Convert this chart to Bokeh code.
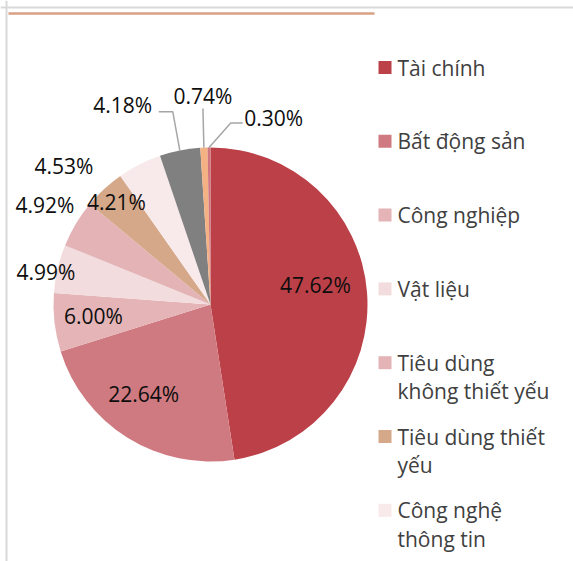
import numpy as np
from bokeh.plotting import figure
from bokeh.models import ColumnDataSource, Span
from bokeh.core.properties import value
from bokeh.embed import file_html
from bokeh.resources import INLINE

# ---- data ----
sectors = ["Tài chính", "Bất động sản", "Công nghiệp", "Vật liệu",
           "Tiêu dùng không thiết yếu", "Tiêu dùng thiết yếu",
           "Công nghệ thông tin", "Năng lượng", "Y tế", "Tiện ích"]
weights = [47.62, 22.64, 6.00, 4.99, 4.92, 4.21, 4.53, 4.18, 0.74, 0.30]
colors = ["#BC4048", "#CF7A80", "#E4B4B7", "#F2DCDD", "#E3B3B6",
          "#D5A88A", "#F8E9EA", "#808080", "#F4B183", "#D0767E"]
# legend entries visible in the reference (wrapped as shown)
legend_labels = ["Tài chính", "Bất động sản", "Công nghiệp", "Vật liệu",
                 "Tiêu dùng\nkhông thiết yếu", "Tiêu dùng thiết\nyếu",
                 "Công nghệ\nthông tin"]

# ---- layout / style ----
R = 157
label_r = [0.67, 0.71, 0.75, 1.07, 1.23, 0.885, 1.29, 1.20, 1.30, 1.20]
label_nudge = [(0, 11), (-8, 5), (0, 2), (-1, -6), (0, 0), (0, 0),
               (-55, -42), (-51, 15), (1, 5), (65, -2)]
FONT = "Open Sans"
FS = "21px"

w = np.array(weights)
total = w.sum()
cum = np.concatenate([[0], np.cumsum(w)])
start = np.pi / 2 - 2 * np.pi * cum[:-1] / total
end = np.pi / 2 - 2 * np.pi * cum[1:] / total
mid = (start + end) / 2

p = figure(width=573, height=561, x_range=(-210, 363), y_range=(-257, 304),
           output_backend="svg", toolbar_location=None, min_border=0)
p.axis.visible = False
p.grid.visible = False
p.outline_line_color = None
p.background_fill_color = "white"
p.border_fill_color = "white"

# frame decorations
p.add_layout(Span(location=-204, dimension="height", line_color="#d9d9d9", line_width=2))
p.add_layout(Span(location=297, dimension="width", line_color="#d9d9d9", line_width=2))
p.segment(x0=[-202], y0=[291], x1=[164], y1=[291], line_color="#D8A084", line_width=2.5)

src = ColumnDataSource(dict(start=start, end=end, color=colors, sector=sectors))
p.wedge(x=0, y=0, radius=R, start_angle="start", end_angle="end",
        direction="clock", fill_color="color", line_color=None, source=src)

# data labels
lx = np.array([R * label_r[i] * np.cos(mid[i]) + label_nudge[i][0] for i in range(len(w))])
ly = np.array([R * label_r[i] * np.sin(mid[i]) + label_nudge[i][1] for i in range(len(w))])
labels = [f"{v:.2f}%" for v in weights]
p.text(x=lx, y=ly, text=labels, text_font=value(FONT), text_font_size=FS,
       text_color="#0d0d0d", text_align="center", text_baseline="middle")

# leader lines for the three outside labels at the top
ex = R * np.cos(mid)
ey = R * np.sin(mid)
xs = [[ex[7], lx[7] + 50, lx[7] + 36],
      [ex[8], lx[8]],
      [ex[9], lx[9] - 43, lx[9] - 31]]
ys = [[ey[7], ly[7] - 7, ly[7] - 7],
      [ey[8], ly[8] - 13],
      [ey[9], ly[9] - 5, ly[9] - 5]]
p.multi_line(xs=xs, ys=ys, line_color="#A6A6A6", line_width=1.5)

# legend (manual, as in the reference)
n = len(legend_labels)
leg_y = 237 - 73.8 * np.arange(n)
p.rect(x=[174.5] * n, y=leg_y, width=13, height=13, width_units="screen",
       height_units="screen", fill_color=colors[:n], line_color=None)
tx, ty, tt = [], [], []
for i, lab in enumerate(legend_labels):
    for k, line in enumerate(lab.split("\n")):
        tx.append(187)
        ty.append(leg_y[i] - 28.5 * k)
        tt.append(line)
p.text(x=tx, y=ty, text=tt, text_font=value(FONT), text_font_size=FS,
       text_color="#404040", text_align="left", text_baseline="middle")

open("out.html", "w").write(file_html(p, INLINE))
